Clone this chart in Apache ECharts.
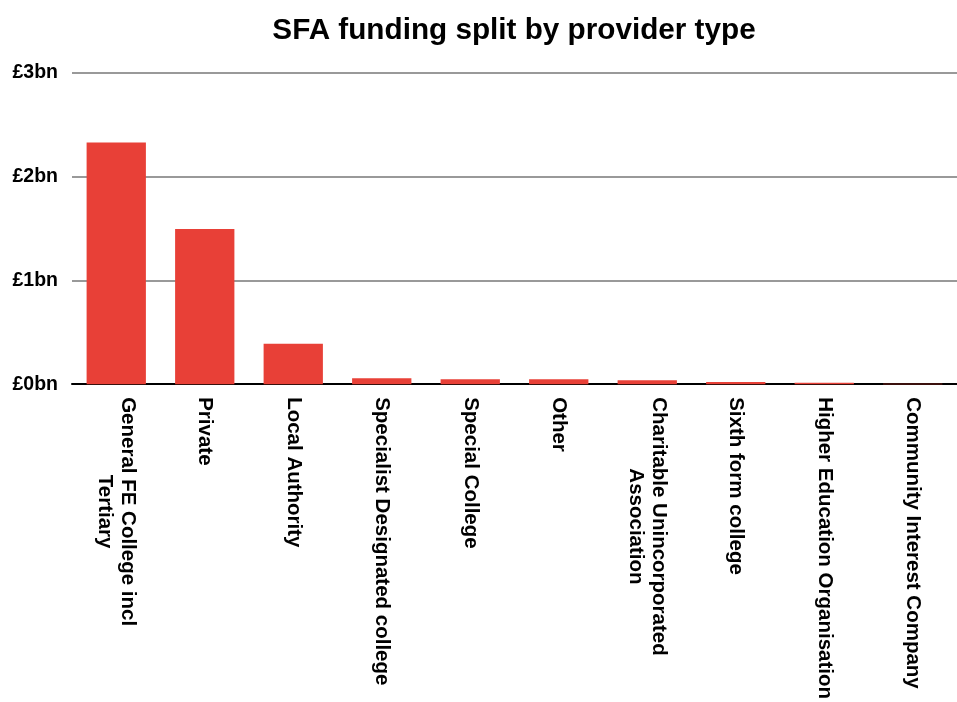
<!DOCTYPE html>
<html><head><meta charset="utf-8">
<script src="https://cdn.jsdelivr.net/npm/echarts@6/dist/echarts.min.js"></script>
<style>html,body{margin:0;padding:0;background:#fff}#c{width:957px;height:702px}</style>
</head><body><div id="c"></div>
<script>
const categories = ["General FE College incl\nTertiary","Private","Local Authority","Specialist Designated college","Special College","Other","Charitable Unincorporated\nAssociation","Sixth form college","Higher Education Organisation","Community Interest Company"];
const funding = [2.33, 1.495, 0.39, 0.058, 0.048, 0.048, 0.038, 0.02, 0.013, 0.003];
const yTicks = ["£0bn","£1bn","£2bn","£3bn"];
const chart = echarts.init(document.getElementById('c'));
chart.setOption({
  animation:false,
  title:{text:"SFA funding split by provider type",left:509,top:11,textAlign:'center',
    textStyle:{fontFamily:"Liberation Sans",fontSize:29.7,fontWeight:'bold',color:'#000'}},
  grid:{left:72,right:-10,top:73,bottom:315,containLabel:false},
  xAxis:{type:'category',data:categories,
    axisLine:{lineStyle:{color:'#000',width:2}},
    axisTick:{lineStyle:{color:'#000',width:2},length:5},
    axisLabel:{rotate:-90,margin:13,interval:0,
      fontFamily:"Liberation Sans",fontSize:20.5,fontWeight:'bold',color:'#000',
      formatter:function(v){return v.split('\n').map(function(s){return '{a|'+s+'}';}).join('\n');},
      rich:{a:{align:'center',fontFamily:"Liberation Sans",fontSize:20.5,fontWeight:'bold',color:'#000',lineHeight:23}}}},
  yAxis:{type:'value',min:0,max:3,interval:1,
    axisLine:{show:false},axisTick:{show:false},
    splitLine:{lineStyle:{color:'#999',width:2}},
    axisLabel:{margin:14,fontFamily:"Liberation Sans",fontSize:19.5,fontWeight:'bold',color:'#000',
      formatter:function(v){return yTicks[Math.round(v)];}}},
  series:[{type:'bar',data:funding,barCategoryGap:'33%',itemStyle:{color:'#E84037'}}]
});
</script></body></html>
